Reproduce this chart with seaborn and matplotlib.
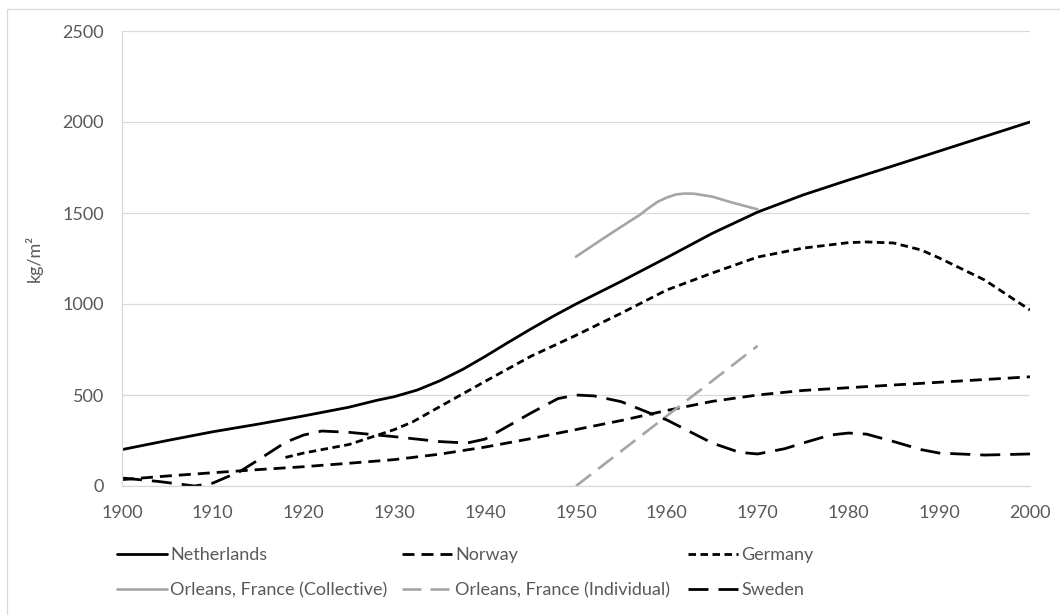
import matplotlib
matplotlib.use("Agg")
import matplotlib.pyplot as plt
import matplotlib.patches as mpatches
import seaborn as sns
import pandas as pd

# ---------------- data ----------------
netherlands_years = [1900, 1905, 1910, 1915, 1920, 1925, 1928, 1930, 1932.5, 1935, 1937.5,
                     1940, 1942.5, 1945, 1947.5, 1950, 1955, 1960, 1965, 1970, 1975, 1980,
                     1985, 1990, 1995, 2000]
netherlands_vals = [200, 250, 298, 340, 385, 433, 470, 491, 527, 578, 640,
                    712, 788, 862, 933, 1000, 1125, 1255, 1388, 1505, 1599, 1681,
                    1760, 1840, 1920, 2000]

norway_years = [1900, 1905, 1910, 1915, 1920, 1925, 1930, 1935, 1940, 1945, 1950,
                1955, 1960, 1965, 1970, 1975, 1980, 1985, 1990, 1995, 2000]
norway_vals = [35, 55, 73, 90, 106, 125, 145, 175, 214, 260, 310,
               360, 415, 465, 500, 525, 540, 555, 570, 585, 600]

germany_years = [1918, 1920, 1925, 1930, 1932, 1935, 1940, 1945, 1950, 1955, 1960, 1965,
                 1970, 1975, 1980, 1982, 1985, 1988, 1990, 1995, 2000]
germany_vals = [157, 181, 228, 310, 352, 436, 575, 712, 828, 950, 1077, 1170,
                1258, 1307, 1337, 1341, 1335, 1297, 1253, 1132, 967]

collective_years = [1950, 1953, 1955, 1957, 1958, 1959, 1960, 1961, 1962, 1963, 1965,
                    1967, 1970]
collective_vals = [1260, 1360, 1425, 1489, 1527, 1562, 1585, 1602, 1607, 1606, 1590,
                   1560, 1520]

individual_years = [1950, 1970]
individual_vals = [0, 770]

sweden_years = [1900, 1904, 1908, 1910, 1913, 1915, 1918, 1920, 1922, 1925, 1930, 1935,
                1938, 1940, 1945, 1948, 1950, 1952, 1955, 1960, 1965, 1968, 1970, 1973,
                1975, 1978, 1980, 1982, 1985, 1988, 1990, 1995, 2000]
sweden_vals = [44, 25, 0, 16, 80, 143, 240, 280, 302, 295, 271, 244,
               236, 258, 400, 480, 500, 495, 463, 363, 236, 185, 176, 205,
               236, 280, 291, 285, 244, 200, 181, 170, 176]

x_ticks = [1900, 1910, 1920, 1930, 1940, 1950, 1960, 1970, 1980, 1990, 2000]
y_ticks = [0, 500, 1000, 1500, 2000, 2500]
y_label = "kg/m\u00b2"

# ---------------- style ----------------
sns.set_style("white")
plt.rcParams["font.family"] = ["Lato", "DejaVu Sans"]
plt.rcParams["lines.scale_dashes"] = False
plt.rcParams["lines.solid_joinstyle"] = "round"
plt.rcParams["lines.dash_joinstyle"] = "round"

PX = 0.72  # points per pixel at dpi 100
BLACK = "#000000"
GREY = "#A5A5A5"
TXT = "#595959"
GRID = "#D9D9D9"

fig = plt.figure(figsize=(10.6, 6.15), dpi=100)
W, H = 1060, 615
ax = fig.add_axes([122 / W, 1 - 486 / H, 908 / W, 455 / H])

series = [
    ("Netherlands", netherlands_years, netherlands_vals, BLACK, "-", 2.0),
    ("Norway", norway_years, norway_vals, BLACK, (0, (12 * PX, 7 * PX)), 2.0),
    ("Germany", germany_years, germany_vals, BLACK, (0, (7.5 * PX, 4.5 * PX)), 2.0),
    ("Orleans, France (Collective)", collective_years, collective_vals, GREY, "-", 1.9),
    ("Orleans, France (Individual)", individual_years, individual_vals, GREY,
     (0, (19 * PX, 9 * PX)), 1.9),
    ("Sweden", sweden_years, sweden_vals, BLACK, (0, (20 * PX, 10 * PX)), 2.0),
]

for name, xs, ys, col, ls, lw in series:
    df = pd.DataFrame({"year": xs, "value": ys})
    sns.lineplot(data=df, x="year", y="value", ax=ax, color=col, linestyle=ls,
                 linewidth=lw, label=name, sort=False)

ax.set_xlim(1900, 2000)
ax.set_ylim(0, 2500)
ax.set_xticks(x_ticks)
ax.set_yticks(y_ticks)
ax.set_xticklabels([str(t) for t in x_ticks])
ax.set_yticklabels([str(t) for t in y_ticks])
ax.tick_params(axis="both", length=0, labelsize=13, colors=TXT)
ax.tick_params(axis="y", pad=13)
ax.tick_params(axis="x", pad=13.5)
ax.set_xlabel("")
ax.set_ylabel(y_label, fontsize=13, color=TXT)
ax.yaxis.set_label_coords(-(122 - 43) / 908, 0.5)

ax.grid(axis="y", color=GRID, linewidth=0.9)
ax.grid(axis="x", visible=False)
ax.set_axisbelow(True)
for s in ["top", "right"]:
    ax.spines[s].set_visible(False)
for s in ["left", "bottom"]:
    ax.spines[s].set_color(GRID)
    ax.spines[s].set_linewidth(0.9)

# legend: three columns placed at the reference positions
handles, labels = ax.get_legend_handles_labels()
ax.get_legend().remove()
lookup = dict(zip(labels, handles))
columns = [
    (["Netherlands", "Orleans, France (Collective)"], 117),
    (["Norway", "Orleans, France (Individual)"], 402),
    (["Germany", "Sweden"], 688),
]
for names, xpix in columns:
    leg = fig.legend([lookup[n] for n in names], names, loc="center left",
                     bbox_to_anchor=(xpix / W, 1 - 572.5 / H), frameon=False,
                     fontsize=13, handlelength=36 / 13, handletextpad=0.18,
                     labelspacing=1.05, borderpad=0, borderaxespad=0)
    for t in leg.get_texts():
        t.set_color(TXT)

# chart-area border (top and left visible in the reference)
fig.patches.append(mpatches.Rectangle((7 / W, -0.1), 1.2, 1 - 9 / H + 0.1,
                                      transform=fig.transFigure, fill=False,
                                      edgecolor=GRID, linewidth=0.9))

fig.savefig("out.png", dpi=100)
